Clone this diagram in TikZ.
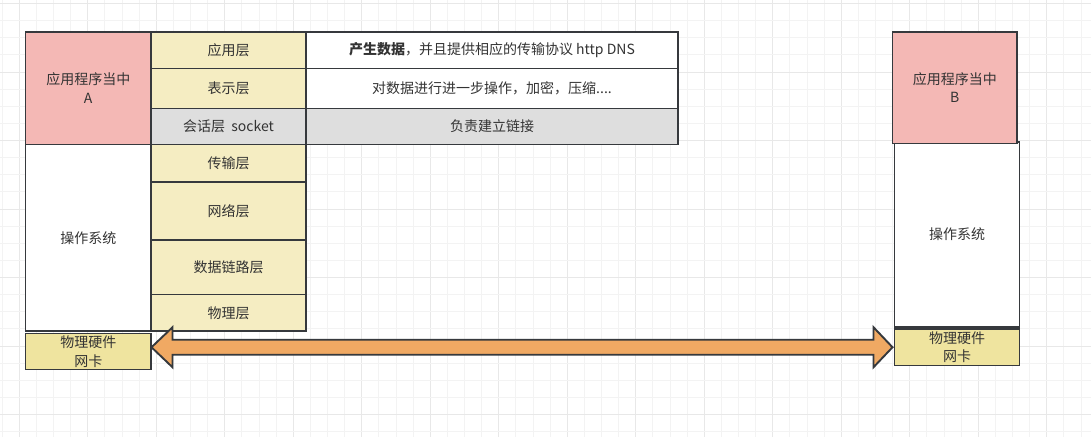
\documentclass[tikz,border=0pt]{standalone}
\usepackage{fontspec}
\setmainfont{Noto Sans CJK SC}
\usetikzlibrary{calc}
\definecolor{bord}{HTML}{36393D}
\definecolor{pinkc}{HTML}{F4B8B5}
\definecolor{layc}{HTML}{F5EDC2}
\definecolor{hwc}{HTML}{EFE49F}
\definecolor{grayc}{HTML}{DEDEDE}
\definecolor{orc}{HTML}{F0A963}
\definecolor{txt}{HTML}{333333}
\definecolor{gminor}{HTML}{F3F3F3}
\definecolor{gmajor}{HTML}{E8E8E8}
\begin{document}
\begin{tikzpicture}[x=1pt,y=-1pt,
  cell/.style={draw=bord,line width=1.9pt,rectangle,inner sep=0pt,outer sep=0pt,
    text=txt,align=center,font=\fontsize{14}{18.5}\selectfont},
  pinkbox/.style={cell,fill=pinkc},
  laybox/.style={cell,fill=layc},
  hwbox/.style={cell,fill=hwc},
  graybox/.style={cell,fill=grayc},
  whitebox/.style={cell,fill=white},
  bigarrow/.style={draw=bord,line width=1.9pt,fill=orc,line join=miter}]
\useasboundingbox (0,0) rectangle (1091,437);
\fill[white] (0,0) rectangle (1091,437);
% grid
\foreach \k in {0,...,63}{
  \pgfmathsetmacro\gx{2.175+17.125*\k}
  \pgfmathtruncatemacro\m{mod(\k,4)}
  \ifnum\m=1 \draw[gmajor,line width=1pt] (\gx,0) -- (\gx,437);
  \else \draw[gminor,line width=1pt] (\gx,0) -- (\gx,437); \fi
}
\foreach \k in {0,...,25}{
  \pgfmathsetmacro\gy{3.5+17.125*\k}
  \pgfmathtruncatemacro\m{mod(\k,4)}
  \ifnum\m=0 \draw[gmajor,line width=1pt] (0,\gy) -- (1091,\gy);
  \else \draw[gminor,line width=1pt] (0,\gy) -- (1091,\gy); \fi
}
% host A
\node[pinkbox,minimum width=125.5pt,minimum height=112.5pt] (pinkA) at (88.25,88.25) {应用程序当中\\A};
\node[whitebox,minimum width=125.5pt,minimum height=186.5pt] (osA) at (88.25,237.75) {操作系统};
\node[hwbox,minimum width=125.5pt,minimum height=36pt] (hwA) at (88.25,351.5) {物理硬件\\网卡};
% layers
\node[laybox,minimum width=155pt,minimum height=36.5pt] (l1) at (228.5,50.25) {应用层};
\node[laybox,minimum width=155pt,minimum height=40pt] (l2) at (228.5,88.5) {表示层};
\node[graybox,minimum width=155pt,minimum height=36pt] (l3) at (228.5,126.5) {会话层\ \ socket};
\node[laybox,minimum width=155pt,minimum height=37.5pt] (l4) at (228.5,163.25) {传输层};
\node[laybox,minimum width=155pt,minimum height=58pt] (l5) at (228.5,211) {网络层};
\node[laybox,minimum width=155pt,minimum height=54.5pt] (l6) at (228.5,267.25) {数据链路层};
\node[laybox,minimum width=155pt,minimum height=36.5pt] (l7) at (228.5,312.75) {物理层};
% descriptions
\node[whitebox,minimum width=372pt,minimum height=36.5pt] (d1) at (492,50.25) {\textbf{产生数据}，并且提供相应的传输协议 http DNS};
\node[whitebox,minimum width=372pt,minimum height=40pt] (d2) at (492,88.5) {对数据进行进一步操作，加密，压缩....};
\node[graybox,minimum width=372pt,minimum height=36pt] (d3) at (492,126.5) {负责建立链接};
% host B
\node[whitebox,minimum width=125pt,minimum height=185pt] (osB) at (957,234.5) {操作系统};
\node[pinkbox,minimum width=124.5pt,minimum height=111.5pt] (pinkB) at (954.75,87.75) {应用程序当中\\B};
\node[hwbox,minimum width=125pt,minimum height=36.5pt] (hwB) at (957,347.25) {物理硬件\\网卡};
% double arrow
\coordinate (ta) at ($(hwA.east |- hwB.west)+(0.5,0)$);
\coordinate (tb) at ($(hwB.west)+(-2,0)$);
\draw[bigarrow] (ta) -- ($(ta)+(21,-20)$) -- ($(ta)+(21,-7.5)$) -- ($(tb)+(-19,-7.5)$)
  -- ($(tb)+(-19,-20)$) -- (tb) -- ($(tb)+(-19,20)$) -- ($(tb)+(-19,7.5)$)
  -- ($(ta)+(21,7.5)$) -- ($(ta)+(21,20)$) -- cycle;
\end{tikzpicture}
\end{document}
